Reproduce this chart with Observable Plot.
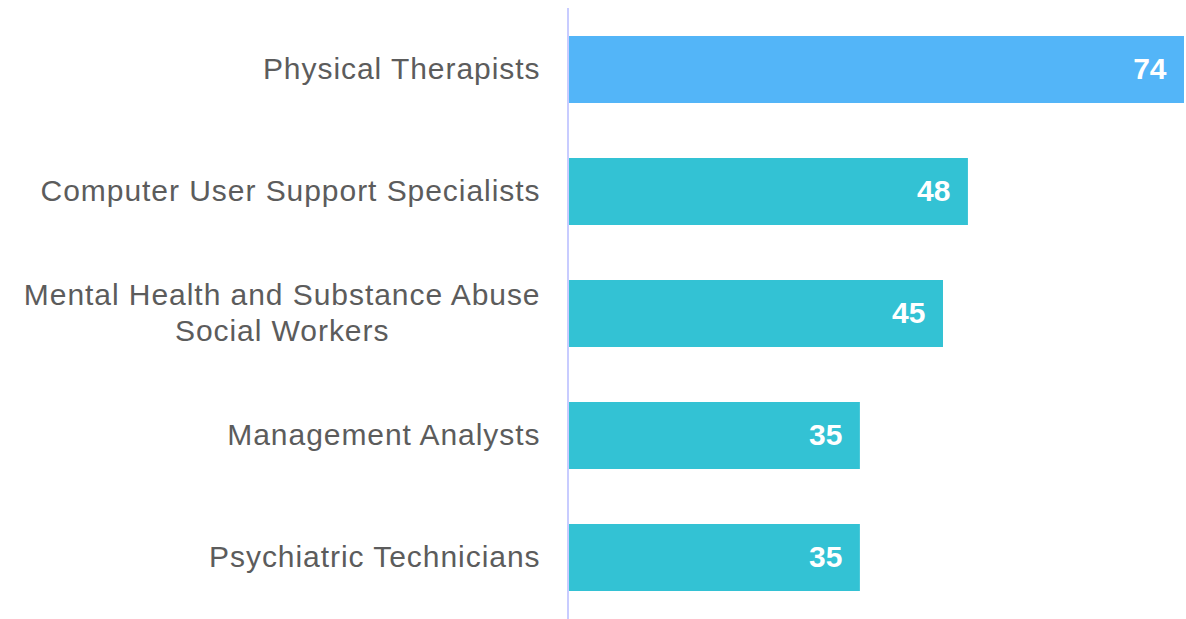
<!DOCTYPE html>
<html>
<head>
<meta charset="utf-8">
<script src="https://cdn.jsdelivr.net/npm/d3@7"></script>
<script src="https://cdn.jsdelivr.net/npm/@observablehq/plot@0.6"></script>
<style>
  html, body { margin: 0; padding: 0; background: #fff; }
  #chart { width: 1186px; height: 619px; }
</style>
</head>
<body>
<div id="chart"></div>
<script>
const categories = [
  "Physical Therapists",
  "Computer User Support Specialists",
  "Mental Health and Substance Abuse\nSocial Workers",
  "Management Analysts",
  "Psychiatric Technicians"
];
const values = [74, 48, 45, 35, 35];
const colors = ["#53b5f8", "#33c2d4", "#33c2d4", "#33c2d4", "#33c2d4"];

const data = categories.map((c, i) => ({category: c, value: values[i], color: colors[i]}));

const chart = Plot.plot({
  width: 1186,
  height: 619,
  marginLeft: 569,
  marginRight: 2,
  marginTop: 8,
  marginBottom: 0,
  style: {fontFamily: "'Liberation Sans', Arial, sans-serif", background: "#fff"},
  x: {domain: [0, 74], axis: null},
  y: {domain: categories, paddingInner: 0.45, paddingOuter: 0.225, label: null},
  marks: [
    Plot.barX(data, {x: "value", y: "category", fill: "color"}),
    Plot.ruleX([0], {stroke: "#c8ccff", strokeWidth: 2, dx: -1.5}),
    Plot.axisY({
      tickSize: 0,
      tickPadding: 29,
      fontSize: 30,
      lineHeight: 1.2,
      dy: -2.5,
      fill: "#5c5c5c",
      label: null
    }),
    Plot.text(data, {
      x: "value", y: "category", text: d => String(d.value),
      textAnchor: "end", dx: -18, dy: -1, fill: "#fff",
      fontSize: 30, fontWeight: "bold"
    })
  ]
});

document.getElementById("chart").append(chart);

// apply letter spacing to axis labels and center multi-line labels per line
chart.querySelectorAll('g[aria-label="y-axis tick label"] text').forEach(t => {
  t.style.letterSpacing = "0.95px";
  const spans = t.querySelectorAll("tspan");
  if (spans.length > 1) {
    let w = 0;
    spans.forEach(s => { w = Math.max(w, s.getComputedTextLength()); });
    t.setAttribute("text-anchor", "middle");
    spans.forEach(s => s.setAttribute("x", -w / 2));
  }
});
</script>
</body>
</html>
